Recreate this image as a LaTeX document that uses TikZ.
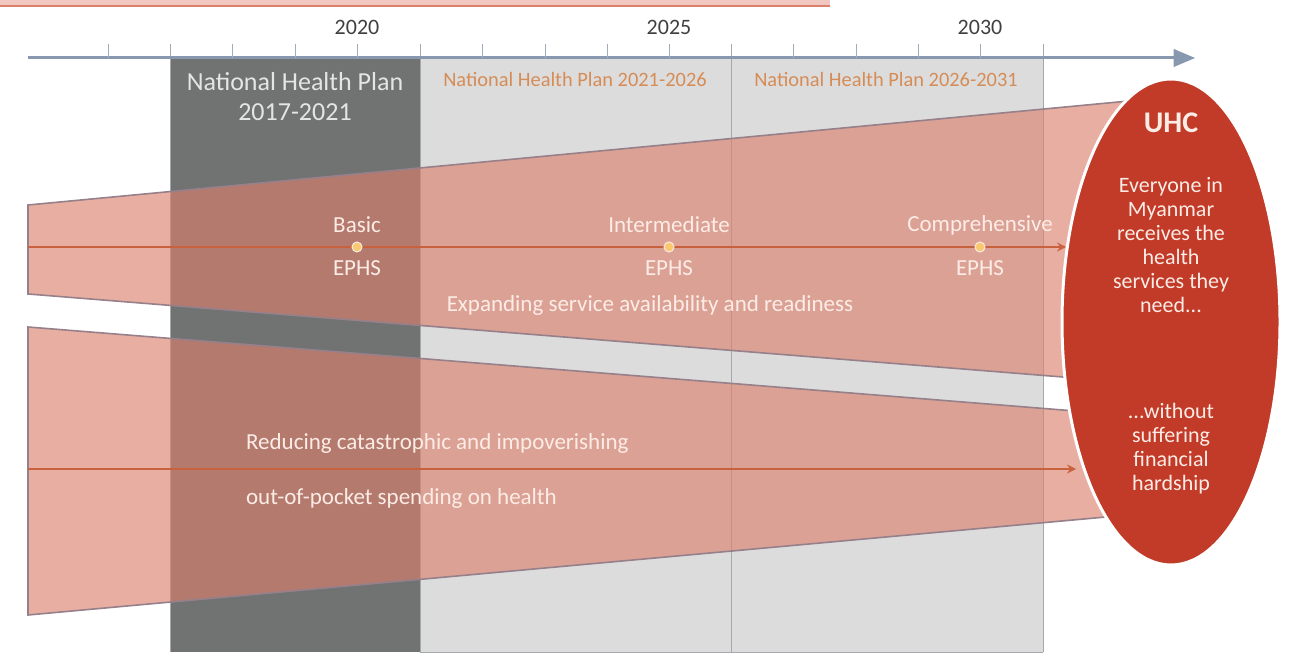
\documentclass[tikz,border=0pt]{standalone}
\usepackage{fontspec}
\setmainfont{Carlito}
\usepackage{tikz}
\usetikzlibrary{arrows,shapes.geometric,positioning}

\definecolor{axisblue}{RGB}{135,152,175}
\definecolor{darkpanel}{RGB}{113,114,114}
\definecolor{lightpanel}{RGB}{220,220,221}
\definecolor{panelline}{RGB}{165,168,172}
\definecolor{bandfill}{RGB}{220,127,108}
\definecolor{bandline}{RGB}{150,128,138}
\definecolor{bandarrow}{RGB}{200,98,62}
\definecolor{uhcred}{RGB}{194,58,40}
\definecolor{plantext}{RGB}{214,140,85}
\definecolor{softwhite}{RGB}{252,236,230}
\definecolor{dotfill}{RGB}{250,200,110}
\definecolor{topstrip}{RGB}{240,200,192}

\begin{document}
\begin{tikzpicture}[x=0.5pt,y=-0.5pt,
	year/.style={text=black!75,font=\fontsize{11}{13}\selectfont},
	plan/.style={text=plantext,font=\fontsize{10.2}{12}\selectfont},
	band/.style={fill=bandfill,fill opacity=0.63,draw=bandline,line width=0.8pt},
	flow/.style={draw=bandarrow,line width=1pt,->,>=stealth},
	bandtext/.style={text=softwhite,font=\fontsize{11.5}{13}\selectfont},
	dot/.style={circle,fill=dotfill,draw=softwhite,line width=0.5pt,inner sep=0pt,minimum size=5pt},
	uhctext/.style={text=softwhite,align=center,font=\fontsize{11}{12}\selectfont}]

	\useasboundingbox (0,0) rectangle (1294,656);

	\fill[topstrip] (0,0) rectangle (830,6);
	\draw[draw=bandfill,line width=0.8pt] (0,6)--(830,6);

	\fill[darkpanel] (170,58) rectangle (420,652);
	\fill[lightpanel] (420,58) rectangle (1043,652);
	\draw[draw=panelline] (170,44)--(170,652);
	\draw[draw=panelline] (420,44)--(420,652);
	\draw[draw=panelline] (731,44)--(731,652);
	\draw[draw=panelline] (1043,44)--(1043,652);
	\draw[draw=panelline] (420,652)--(1043,652);

	\draw[draw=axisblue,line width=1.5pt,->,>=triangle 45] (28,58)--(1195,58);
	\draw[draw=axisblue!80] (108,44)--++(0,14);
	\draw[draw=axisblue!80] (232,44)--++(0,14);
	\draw[draw=axisblue!80] (295,44)--++(0,14);
	\draw[draw=axisblue!80] (357,44)--++(0,14);
	\draw[draw=axisblue!80] (482,44)--++(0,14);
	\draw[draw=axisblue!80] (545,44)--++(0,14);
	\draw[draw=axisblue!80] (607,44)--++(0,14);
	\draw[draw=axisblue!80] (669,44)--++(0,14);
	\draw[draw=axisblue!80] (793,44)--++(0,14);
	\draw[draw=axisblue!80] (856,44)--++(0,14);
	\draw[draw=axisblue!80] (918,44)--++(0,14);
	\draw[draw=axisblue!80] (980,44)--++(0,14);
	\node[year] (y2020) at (357,27){2020};
	\node[year] (y2025) at (669,27){2025};
	\node[year] (y2030) at (980,27){2030};

	\node[align=center,text=white!90!black,font=\fontsize{13}{15}\selectfont] (nhp1) at (295,97){National Health Plan\\2017-2021};
	\node[plan] (nhp2) at (575,80){National Health Plan 2021-2026};
	\node[plan] (nhp3) at (886,80){National Health Plan 2026-2031};

	\draw[band] (28,205)--(1150,99)--(1150,384)--(28,294)--cycle;
	\draw[band] (28,327)--(1150,417)--(1150,513)--(28,615)--cycle;

	\coordinate (b1start) at (28,247);
	\coordinate (b1end) at (1066,247);
	\coordinate (b2start) at (28,469);
	\coordinate (b2end) at (1076,469);
	\draw[flow] (b1start)--(b1end);
	\draw[flow] (b2start)--(b2end);

	\node[dot] (basic) at (357,247){};
	\node[dot] (inter) at (669,247){};
	\node[dot] (compr) at (980,247){};
	\node[bandtext] (basiclab) at (357,225){Basic};
	\node[bandtext] (basicephs) at (357,268){EPHS};
	\node[bandtext] (interlab) at (669,225){Intermediate};
	\node[bandtext] (interephs) at (669,268){EPHS};
	\node[bandtext] (comprlab) at (980,225){Comprehensive};
	\node[bandtext] (comprephs) at (980,268){EPHS};
	\node[bandtext] (expand) at (650,305){Expanding service availability and readiness};
	\node[bandtext,anchor=west] (reduce) at (239,443){Reducing catastrophic and impoverishing};
	\node[bandtext,anchor=west] (oop) at (239,498){out-of-pocket spending on health};

	\node[ellipse,fill=uhcred,draw=white,line width=1.5pt,inner sep=0pt,minimum width=109pt,minimum height=243pt] (uhc) at (1171,322){};
	\node[uhctext,font=\fontsize{15}{17}\bfseries] (uhctitle) at (1171,123){UHC};
	\node[uhctext] (needs) at (1171,245){Everyone in\\Myanmar\\receives the\\health\\services they\\need...};
	\node[uhctext] (hardship) at (1171,449){...without\\suffering\\financial\\hardship};
\end{tikzpicture}
\end{document}
